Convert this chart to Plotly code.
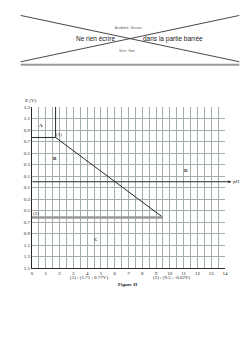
import plotly.graph_objects as go

# ---- data ----
ph_ticks = list(range(0, 15))
e_ticks = [1.3, 1.1, 0.9, 0.7, 0.5, 0.3, 0.1, -0.1, -0.3, -0.5, -0.7, -0.9, -1.1, -1.3, -1.5]
e_labels = ["1.3", "1.1", "0.9", "0.7", "0.5", "0.3", "0.1", "0.1", "0.3", "0.5", "0.7", "0.9", "1.1", "1.3", "1.5"]
p1 = (1.71, 0.77)   # point (1)
p2 = (9.5, -0.62)   # point (2)
e_top = 1.3
regions = ["A", "B", "C", "D"]
region_ph = [0.65, 1.7, 4.67, 11.2]
region_e = [0.97, 0.40, -1.0, 0.19]

W, H = 248, 351
L, R, T, B = 32, 23.3, 107.25, 82.75
PW, PH = W - L - R, H - T - B


def px(x):
    return (x - L) / PW


def py(y):
    return (H - B - y) / PH


fig = go.Figure()
dark = "#2a2a2a"
fig.add_trace(go.Scatter(x=[p1[0], p1[0]], y=[p1[1], e_top], mode="lines",
                         line=dict(color=dark, width=1), hoverinfo="skip"))
fig.add_trace(go.Scatter(x=[0, p1[0]], y=[p1[1], p1[1]], mode="lines",
                         line=dict(color=dark, width=1), hoverinfo="skip"))
fig.add_trace(go.Scatter(x=[p1[0], p2[0]], y=[p1[1], p2[1]], mode="lines",
                         line=dict(color=dark, width=1), hoverinfo="skip"))
fig.add_trace(go.Scatter(x=[0, p2[0]], y=[p2[1], p2[1]], mode="lines",
                         line=dict(color="#9a9a9a", width=2.5), hoverinfo="skip"))

serif = "Liberation Serif"
ann = []


def txt(x, y, text, xref="paper", yref="paper", size=5, family=serif, color="#222"):
    ann.append(dict(x=x, y=y, xref=xref, yref=yref, text=text, showarrow=False,
                    xanchor="center", yanchor="middle",
                    font=dict(family=family, size=size, color=color)))


for r, x, y in zip(regions, region_ph, region_e):
    txt(x, y, "<b>%s</b>" % r, "x", "y")
txt(1.97, 0.83, "(1)", "x", "y")
txt(0.3, -0.56, "(2)", "x", "y")
txt(px(31), py(101), "<i>E</i> (V)")
# pH axis arrow at E = 0
ann.append(dict(x=px(231), y=0, ax=px(31), ay=0, xref="x domain", yref="y",
                axref="x domain", ayref="y",
                text="", showarrow=True, arrowhead=2, arrowsize=0.6, arrowwidth=1, arrowcolor=dark))
txt(px(236), 0, "pH", "paper", "y")
txt(px(89), py(278), "(1) : (1.71 ; 0.77V)")
txt(px(172), py(278), "(2) : (9.5 ; -0.62V)")
txt(px(127), py(285), "<b>Figure II</b>")
txt(px(95), py(39), "Ne rien écrire", size=6.5, family="Liberation Sans")
txt(px(173), py(39), "dans la partie barrée", size=6.5, family="Liberation Sans")
txt(px(129), py(28), "Académie : Session :", size=3, family="Liberation Sans", color="#555")
txt(px(128), py(51), "Série : Nom :", size=3, family="Liberation Sans", color="#555")

shapes = [
    dict(type="line", xref="paper", yref="paper", x0=px(20.7), y0=py(15.7), x1=px(239), y1=py(62),
         line=dict(color="#333", width=0.9)),
    dict(type="line", xref="paper", yref="paper", x0=px(20.7), y0=py(62), x1=px(239), y1=py(15.7),
         line=dict(color="#333", width=0.9)),
    dict(type="line", xref="paper", yref="paper", x0=px(20.7), y0=py(65), x1=px(239), y1=py(65),
         line=dict(color="#999", width=2)),
]

grid = "#a3aeab"
fig.update_layout(
    width=W, height=H, margin=dict(l=L, r=R, t=T, b=B, autoexpand=False),
    paper_bgcolor="white", plot_bgcolor="white", showlegend=False,
    annotations=ann, shapes=shapes,
    xaxis=dict(range=[0, 14], tickvals=ph_ticks, ticktext=[str(v) for v in ph_ticks],
               showgrid=True, gridcolor=grid, gridwidth=1, zeroline=False,
               minor=dict(dtick=0.5, showgrid=True, gridcolor=grid, gridwidth=1),
               showline=True, linecolor=dark, linewidth=1, ticks="",
               tickfont=dict(family=serif, size=5, color="#222"), fixedrange=True),
    yaxis=dict(range=[-1.5, 1.3], tickvals=e_ticks, ticktext=e_labels,
               showgrid=True, gridcolor=grid, gridwidth=1, zeroline=False,
               showline=True, linecolor=dark, linewidth=1, ticks="",
               tickfont=dict(family=serif, size=5, color="#222"), fixedrange=True),
)

fig.write_html("out.html")
